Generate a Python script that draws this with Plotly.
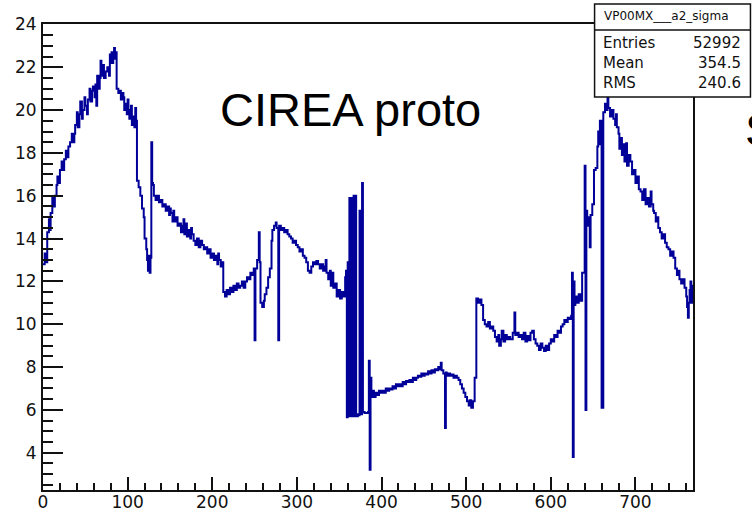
import plotly.graph_objects as go

# Sigma per channel for the a2 readout, stored as runs of equal value:
# run_start[i] is the first channel of the run, run_sigma[i] its value.
n_channels = 768

run_start = [
    0, 2, 4, 5, 7, 8, 9, 11, 12, 14, 16, 17, 19, 20, 22, 23, 25, 27, 29, 30,
    32, 34, 35, 37, 38, 40, 41, 43, 44, 46, 47, 49, 50, 52, 53, 55, 56, 58, 59, 61,
    62, 63, 64, 66, 67, 68, 69, 71, 72, 74, 76, 78, 79, 80, 81, 82, 83, 84, 85, 86,
    87, 89, 91, 92, 94, 95, 96, 98, 99, 100, 101, 102, 104, 105, 107, 108, 109, 110, 111, 113,
    115, 117, 119, 120, 122, 123, 124, 125, 126, 127, 128, 129,
    130, 131, 133, 135, 137, 139, 141, 143, 145, 147, 149, 150, 151, 153, 154, 155, 157, 159, 161, 163,
    165, 166, 167, 169, 170, 172, 174, 175, 176, 178, 180, 182, 184, 186, 188, 190, 192, 194, 196, 198,
    200, 202, 204, 206, 207, 208, 210, 212,
    213, 215, 217, 219, 221, 223, 225, 227, 229, 231, 233, 235, 237, 239, 241, 243, 245, 247, 249, 250,
    251, 253, 255, 256, 257, 259, 261, 262, 264, 266, 268, 270, 271, 273, 275, 276, 278, 279, 281, 283,
    285, 287, 289, 291, 293, 295, 297, 299, 301, 303, 305, 307, 309, 311, 313, 315, 317, 319, 321, 323,
    325, 327, 329, 331, 333, 334, 335, 337, 339, 340, 342, 343, 345, 347, 349, 351, 353, 355, 357, 358,
    359, 360, 361, 362, 363, 364, 365, 366, 367, 368, 369, 370, 371, 372, 373, 374, 375, 376, 377, 378,
    380, 384, 385, 386, 387, 388, 389,
    391, 393, 395, 397, 399, 401, 403, 405, 407, 409, 411, 413, 415, 417, 419, 421, 423, 425, 427, 429,
    431, 433, 435, 437, 439, 441, 443, 445, 447, 449, 451, 453, 455, 457, 459, 461, 463, 465, 467, 469,
    470, 471, 473, 475, 476, 477, 479, 481, 483, 485, 487, 489, 491, 493, 495, 497, 499, 501, 503, 504,
    506, 508, 510,
    512, 514, 516, 518, 520, 522, 524, 526, 528, 530, 532, 534, 536, 538, 539, 541, 542, 544, 546, 548,
    550, 552, 555, 557, 558, 560, 562, 564, 566, 568, 570, 572, 574, 576, 578, 580, 582, 584, 586, 588,
    590, 592, 594, 596, 598, 600, 602, 604, 606, 608, 610, 612, 614, 616, 618, 620, 622, 624,
    625, 626, 627, 628, 629, 631, 633, 635, 637, 640, 641, 642, 643, 645, 646, 647, 649, 651, 653, 655,
    656, 657, 658, 660, 662, 664, 666, 667, 668, 670, 672, 674, 676, 677, 678, 680, 681, 683, 684, 686,
    687, 689, 690, 692, 694, 696, 698, 700, 702, 704, 706, 708, 710, 712, 714, 716, 718, 719, 721, 722,
    724, 726, 727, 729, 731, 733, 735, 737, 739, 741, 743, 745, 747, 749, 751, 752, 754, 756, 758, 760,
    761, 762, 763, 764, 765, 766, 767,
]

run_sigma = [
    12.8, 13.3, 12.9, 14.3, 14.9, 14.4, 15.2, 15.9, 15.5, 16.0, 16.5, 16.9, 16.6, 17.2, 17.6, 17.2, 17.7, 18.1, 17.8, 18.3,
    18.5, 18.9, 18.5, 18.9, 19.3, 19.9, 19.2, 19.8, 20.4, 19.6, 20.0, 20.6, 20.2, 19.8, 20.5, 21.0, 20.4, 20.9, 21.1, 20.6,
    21.2, 20.2, 21.6, 21.0, 21.5, 22.3, 21.6, 22.1, 21.5, 21.8, 22.0, 21.6, 22.6, 22.2, 22.7, 22.2, 22.5, 22.9, 22.4, 22.7,
    21.0, 20.8, 20.9, 20.5, 20.8, 20.6, 20.0, 20.3, 19.8, 20.5, 20.0, 19.6, 20.2, 19.3, 19.7, 19.2, 20.1, 19.5, 16.7, 16.4,
    16.0, 15.4, 15.0, 14.0, 13.5, 13.0, 12.5, 13.2, 12.4, 13.1, 18.5, 16.6,
    16.5, 16.0, 15.8, 16.0, 15.7, 15.8, 15.5, 15.6, 15.3, 15.5, 15.1, 15.4, 15.2, 14.8, 15.3, 14.8, 15.0, 14.6, 14.7, 14.3,
    14.6, 14.9, 14.2, 14.7, 14.1, 14.4, 14.0, 14.5, 14.2, 13.9, 13.7, 14.0, 13.6, 13.9, 13.7, 13.5, 13.6, 13.3, 13.5, 13.1,
    13.3, 13.0, 13.2, 12.8, 13.3, 13.0, 12.7, 12.9,
    11.5, 11.3, 11.6, 11.4, 11.7, 11.5, 11.8, 11.6, 11.9, 11.7, 11.8, 12.0, 11.7, 12.0, 12.2, 12.1, 12.4, 12.3, 12.6, 9.25,
    12.6, 13.0, 14.3, 12.9, 11.0, 10.8, 11.1, 11.4, 11.7, 12.2, 12.6, 13.9, 14.4, 14.6, 14.75, 14.5, 9.25, 14.6, 14.4, 14.5,
    14.3, 14.4, 14.2, 14.1, 14.0, 13.8, 13.9, 13.7, 13.6, 13.4, 13.5, 13.2, 13.1, 12.9, 12.5, 12.4, 12.7, 12.9, 12.8, 12.95,
    12.8, 12.6, 12.8, 12.5, 12.7, 13.0, 12.4, 12.1, 12.5, 11.8, 12.4, 11.7, 11.9, 11.3, 11.6, 11.2, 11.5, 11.3, 12.2, 12.5,
    5.66, 12.9, 5.7, 15.9, 5.7, 15.9, 5.75, 5.7, 16.0, 5.7, 16.0, 5.75, 5.7, 5.8, 5.75, 15.3, 5.85, 5.8, 16.6, 5.9,
    5.85, 5.9, 8.3, 3.2, 7.5, 6.6, 6.9,
    6.6, 6.8, 6.7, 6.9, 6.8, 6.9, 6.8, 7.0, 6.9, 7.0, 6.95, 7.1, 7.0, 7.2, 7.1, 7.2, 7.1, 7.3, 7.2, 7.35,
    7.3, 7.4, 7.3, 7.5, 7.4, 7.5, 7.6, 7.55, 7.7, 7.6, 7.7, 7.65, 7.8, 7.7, 7.85, 7.75, 7.9, 7.85, 8.0, 7.9,
    8.2, 7.85, 7.7, 5.15, 7.75, 7.6, 7.7, 7.6, 7.65, 7.5, 7.6, 7.5, 7.4, 7.2, 7.0, 6.8, 6.6, 6.4, 6.2, 6.45,
    6.1, 6.4, 7.5,
    11.2, 11.0, 11.15, 10.9, 10.2, 10.0, 9.9, 10.1, 9.8, 9.9, 9.7, 9.4, 9.2, 9.5, 9.0, 9.3, 9.7, 9.2, 9.5, 9.3,
    9.4, 9.3, 9.6, 10.55, 9.5, 9.6, 9.4, 9.5, 9.3, 9.6, 9.2, 9.45, 9.25, 9.6, 9.7, 9.3, 9.1, 9.0, 8.8, 9.1,
    8.9, 8.75, 9.0, 8.8, 9.1, 9.3, 9.2, 9.5, 9.4, 9.7, 9.6, 9.9, 10.0, 10.2, 10.1, 10.3, 10.25, 10.4,
    12.4, 3.8, 12.0, 10.9, 11.3, 11.0, 11.4, 11.1, 12.4, 17.4, 6.0, 15.3, 14.6, 15.0, 13.6, 15.1, 15.6, 17.2, 17.3, 18.3,
    19.0, 18.4, 19.5, 6.1, 19.9, 20.3, 20.0, 20.6, 20.1, 19.7, 20.0, 19.6, 19.3, 19.8, 19.2, 18.9, 18.2, 18.7, 17.9, 18.4,
    17.6, 18.45, 17.4, 17.9, 17.6, 17.0, 17.2, 16.6, 16.9, 16.3, 16.2, 15.8, 16.3, 15.6, 15.9, 15.5, 16.2, 15.6, 15.3, 15.2,
    14.8, 15.0, 14.5, 14.3, 14.0, 14.2, 13.8, 13.6, 13.5, 13.2, 13.4, 13.1, 12.6, 12.3, 12.5, 12.1, 11.9, 12.1, 11.7, 11.3,
    10.8, 10.3, 11.0, 11.6, 12.0, 11.0, 11.8,
]

x_ticks = [0, 100, 200, 300, 400, 500, 600, 700]
y_ticks = [4, 6, 8, 10, 12, 14, 16, 18, 20, 22, 24]
y_range = [2.26, 24.02]

hist_name = "VP00MX___a2_sigma"
stat_labels = ["Entries", "Mean", "RMS"]
stat_values = ["52992", "354.5", "240.6"]
title_text = "CIREA proto"
side_text = "S"

# canvas geometry (pixels)
W, H = 752, 514
ML, MR, MT, MB = 43, 58.5, 24, 24
PW, PH = W - ML - MR, H - MT - MB


def fx(px):
    return (px - ML) / PW


def fy(py):
    return (H - MB - py) / PH


line_color = "#000099"

step_x = run_start + [n_channels]
step_y = run_sigma + [run_sigma[-1]]

fig = go.Figure()
fig.add_trace(go.Scatter(
    x=step_x, y=step_y, mode="lines", line_shape="hv",
    line=dict(color=line_color, width=2), hoverinfo="skip", showlegend=False,
))

tick_font = dict(family="DejaVu Sans", size=17, color="#111111")
fig.update_xaxes(
    range=[0, n_channels], tickvals=x_ticks, ticks="inside", ticklen=13, tickwidth=1.5,
    tickcolor="#111111", showline=True, linecolor="#111111", linewidth=2, mirror=True,
    showgrid=False, zeroline=False, tickfont=tick_font, ticklabelstandoff=-4, automargin=False,
    minor=dict(dtick=20, ticks="inside", ticklen=7, tickwidth=1.5, tickcolor="#111111", showgrid=False),
)
fig.update_yaxes(
    range=y_range, tickvals=y_ticks, ticks="inside", ticklen=20, tickwidth=1.5,
    tickcolor="#111111", showline=True, linecolor="#111111", linewidth=2, mirror=True,
    showgrid=False, zeroline=False, tickfont=tick_font, ticklabelstandoff=1, automargin=False,
    minor=dict(dtick=0.5, tick0=0, ticks="inside", ticklen=10, tickwidth=1.5, tickcolor="#111111", showgrid=False),
)

# statistics box
box_l, box_r, box_t, box_b, box_sep = 595, 751, 4, 97, 30
fig.add_shape(type="rect", xref="paper", yref="paper",
              x0=fx(box_l), x1=fx(box_r), y0=fy(box_b), y1=fy(box_t),
              fillcolor="white", line=dict(color="#111111", width=1.5), layer="above")
fig.add_shape(type="line", xref="paper", yref="paper",
              x0=fx(box_l), x1=fx(box_r), y0=fy(box_sep), y1=fy(box_sep),
              line=dict(color="#111111", width=1.5), layer="above")

annotations = [
    dict(x=fx(667), y=fy(16), text=hist_name, xanchor="center", yanchor="middle",
         font=dict(family="DejaVu Sans", size=12, color="#111111")),
]
for i, (lab, val) in enumerate(zip(stat_labels, stat_values)):
    yc = fy(43 + 20 * i)
    annotations.append(dict(x=fx(601), y=yc, text=lab, xanchor="left", yanchor="middle",
                            font=dict(family="DejaVu Sans", size=15, color="#111111")))
    annotations.append(dict(x=fx(744), y=yc, text=val, xanchor="right", yanchor="middle",
                            font=dict(family="DejaVu Sans", size=15, color="#111111")))

annotations.append(dict(x=fx(218), y=fy(110), text=title_text, xanchor="left", yanchor="middle",
                        font=dict(family="Liberation Sans", size=47, color="black")))
annotations.append(dict(x=fx(744), y=fy(129), text=side_text, xanchor="left", yanchor="middle",
                        font=dict(family="Liberation Sans", size=47, color="black")))
for a in annotations:
    a.update(xref="paper", yref="paper", showarrow=False)

fig.update_layout(
    width=W, height=H, autosize=False,
    margin=dict(l=ML, r=MR, t=MT, b=MB, pad=0),
    paper_bgcolor="white", plot_bgcolor="white",
    annotations=annotations, showlegend=False,
)

fig.write_html("out.html")
